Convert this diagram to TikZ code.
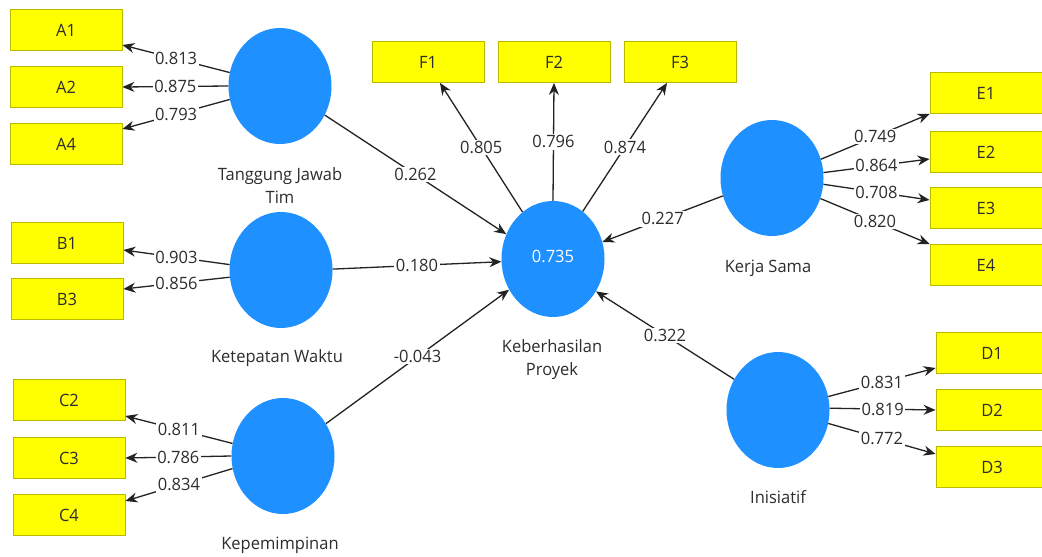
\documentclass[tikz,border=0pt]{standalone}
\usepackage{fontspec}
\setmainfont{Open Sans}[FakeStretch=0.97]
\usetikzlibrary{arrows.meta,shapes.geometric,calc}
\definecolor{lv}{RGB}{30,144,255}
\definecolor{ind}{RGB}{255,255,0}
\definecolor{indb}{RGB}{185,185,0}
\definecolor{ln}{RGB}{35,35,35}
\definecolor{tx}{RGB}{45,45,45}
\begin{document}
\begin{tikzpicture}[x=1pt,y=-1pt,
  font=\fontsize{17}{23}\selectfont,
  latent/.style={ellipse, fill=lv, minimum width=103pt, minimum height=116pt, inner sep=0pt, text=white},
  indic/.style={rectangle, fill=ind, draw=indb, line width=0.8pt, minimum width=112pt, minimum height=41pt, inner sep=0pt, text=tx},
  lname/.style={text=tx, align=center, inner sep=0pt},
  conn/.style={draw=ln, line width=1.3pt, -{Stealth[length=12pt,width=10pt]}},
  coef/.style={fill=white, text=tx, inner sep=1.5pt, pos=0.5},
]
\useasboundingbox[fill=white] (0,0) rectangle (1042,557);

% latent variables
\node[latent] (TJ) at (280,86) {};
\node[latent] (KW) at (281,270) {};
\node[latent] (KP) at (283,456) {};
\node[latent] (KB) at (553,259) {\raisebox{6pt}{0.735}};
\node[latent] (KS) at (772,178) {};
\node[latent] (IN) at (778,410) {};

% latent names
\node[lname] (TJl) at (280,186) {Tanggung Jawab\\Tim};
\node[lname] (KWl) at (277,358) {Ketepatan Waktu};
\node[lname] (KPl) at (280,545) {Kepemimpinan};
\node[lname] (KBl) at (552,360) {Keberhasilan\\Proyek};
\node[lname] (KSl) at (768,268) {Kerja Sama};
\node[lname] (INl) at (778,497) {Inisiatif};

% indicators
\node[indic] (A1) at (66,30) {A1};
\node[indic] (A2) at (66,87) {A2};
\node[indic] (A4) at (66,144) {A4};
\node[indic] (B1) at (67,243) {B1};
\node[indic] (B3) at (67,299) {B3};
\node[indic] (C2) at (69,400) {C2};
\node[indic] (C3) at (69,458) {C3};
\node[indic] (C4) at (69,515) {C4};
\node[indic] (F1) at (428,62) {F1};
\node[indic] (F2) at (554,62) {F2};
\node[indic] (F3) at (680,62) {F3};
\node[indic] (E1) at (986,93) {E1};
\node[indic] (E2) at (986,152) {E2};
\node[indic] (E3) at (986,208) {E3};
\node[indic] (E4) at (986,265) {E4};
\node[indic] (D1) at (992,353) {D1};
\node[indic] (D2) at (992,410) {D2};
\node[indic] (D3) at (992,467) {D3};

% outer loadings
\draw[conn] (TJ.165) -- ($(A1.east)+(0,15)$) node[coef]{0.813};
\draw[conn] (TJ.180) -- (A2.east) node[coef]{0.875};
\draw[conn] (TJ.195) -- ($(A4.east)+(0,-15)$) node[coef]{0.793};
\draw[conn] (KW.174) -- ($(B1.east)+(0,7)$) node[coef]{0.903};
\draw[conn] (KW.188) -- ($(B3.east)+(0,-10)$) node[coef]{0.856};
\draw[conn] (KP.166) -- ($(C2.east)+(0,16)$) node[coef]{0.811};
\draw[conn] (KP.180) -- (C3.east) node[coef]{0.786};
\draw[conn] (KP.194) -- ($(C4.east)+(0,-14)$) node[coef]{0.834};
\draw[conn] (KB.123) -- ($(F1.south)+(12,0)$) node[coef]{0.805};
\draw[conn] (KB.90) -- (F2.south) node[coef]{0.796};
\draw[conn] (KB.58) -- ($(F3.south)+(-13,0)$) node[coef]{0.874};
\draw[conn] (KS.21) -- (E1.south west) node[coef]{0.749};
\draw[conn] (KS.6) -- ($(E2.west)+(0,7)$) node[coef]{0.864};
\draw[conn] (KS.-7) -- ($(E3.west)+(0,-8)$) node[coef]{0.708};
\draw[conn] (KS.-23) -- (E4.north west) node[coef]{0.820};
\draw[conn] (IN.15) -- ($(D1.west)+(0,15)$) node[coef]{0.831};
\draw[conn] (IN.2) -- (D2.west) node[coef]{0.819};
\draw[conn] (IN.-15) -- ($(D3.west)+(0,-13)$) node[coef]{0.772};

% path coefficients
\draw[conn] (TJ.-33) -- (KB.152) node[coef]{0.262};
\draw[conn] (KW.1) -- (KB.183) node[coef]{0.180};
\draw[conn] (KP.37) -- (KB.215) node[coef]{-0.043};
\draw[conn] (KS.200) -- (KB.19) node[coef]{0.227};
\draw[conn] (IN.145) -- (KB.-37) node[coef]{0.322};
\end{tikzpicture}
\end{document}
